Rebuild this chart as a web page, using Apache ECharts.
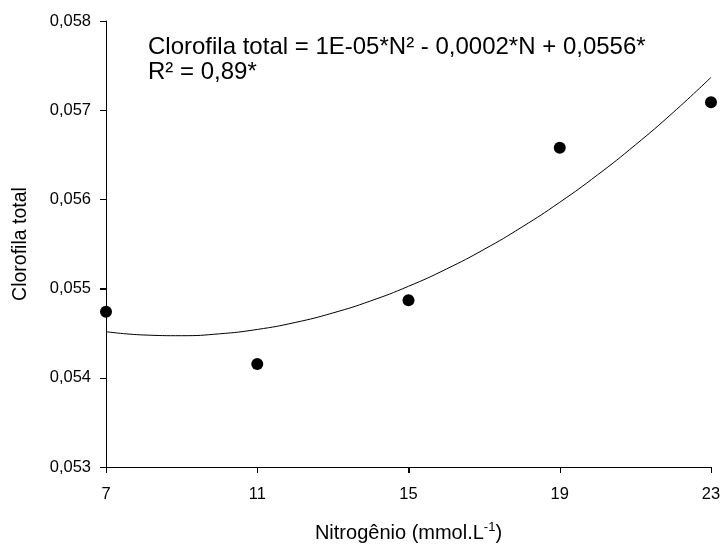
<!DOCTYPE html>
<html>
<head>
<meta charset="utf-8">
<script src="https://cdn.jsdelivr.net/npm/echarts@6/dist/echarts.min.js"></script>
<style>
  html, body { margin: 0; padding: 0; background: #fff; }
  #chart { width: 722px; height: 544px; }
</style>
</head>
<body>
<div id="chart"></div>
<script>
// dados observados
const nitrogenio = [7, 11, 15, 19, 23];
const clorofila = [0.05474, 0.054155, 0.05487, 0.05658, 0.05709];

// curva de regressao (N = 7 a 23)
const curvaN = [7, 8, 9, 10, 11, 12, 13, 14, 15, 16, 17, 18, 19, 20, 21, 22, 23];
const curvaVal = [0.054517, 0.05448, 0.054472, 0.054493, 0.054542, 0.05462, 0.054727, 0.054862,
  0.055026, 0.055219, 0.05544, 0.05569, 0.055968, 0.056275, 0.056611, 0.056975, 0.057368];

// marcas dos eixos
const xTicks = [7, 11, 15, 19, 23];
const yTicks = [0.053, 0.054, 0.055, 0.056, 0.057, 0.058];

const fonte = 'Liberation Sans, Arial, sans-serif';

const chart = echarts.init(document.getElementById('chart'));

// tracinho de eixo desenhado pela escala do grafico
const tracoX = (params, api) => {
  const p = api.coord([api.value(0), yTicks[0]]);
  const x = Math.round(p[0]) + 0.5;
  return { type: 'line', shape: { x1: x, y1: p[1], x2: x, y2: p[1] + 6 }, style: { stroke: '#000', lineWidth: 1 } };
};
const tracoY = (params, api) => {
  const p = api.coord([xTicks[0], api.value(0)]);
  const y = Math.round(p[1]) + 0.5;
  return { type: 'line', shape: { x1: p[0] - 6, y1: y, x2: p[0], y2: y }, style: { stroke: '#000', lineWidth: 1 } };
};

const option = {
  animation: false,
  backgroundColor: '#fff',
  grid: { left: 106, right: 11, top: 21, bottom: 77, outerBoundsMode: 'none' },
  xAxis: {
    type: 'value',
    min: 7,
    max: 23,
    interval: 4,
    name: 'Nitrogênio (mmol.L{sup|-1})',
    nameLocation: 'middle',
    nameGap: 54,
    nameTextStyle: {
      fontFamily: fonte, fontSize: 20, color: '#000',
      rich: { sup: { fontFamily: fonte, fontSize: 13, color: '#000', verticalAlign: 'top', padding: [0, 0, 12, 0] } }
    },
    axisLine: { show: true, lineStyle: { color: '#000', width: 1 } },
    axisTick: { show: true, length: 6, lineStyle: { color: '#000' } },
    axisLabel: { margin: 19, fontFamily: fonte, fontSize: 16.5, color: '#000' },
    splitLine: { show: false }
  },
  yAxis: {
    type: 'value',
    min: 0.053,
    max: 0.058,
    interval: 0.001,
    name: 'Clorofila total',
    nameLocation: 'middle',
    nameGap: 75,
    nameTextStyle: { fontFamily: fonte, fontSize: 19.5, color: '#000' },
    axisLine: { show: true, lineStyle: { color: '#000', width: 1 } },
    axisTick: { show: true, length: 6, lineStyle: { color: '#000' } },
    axisLabel: {
      margin: 15,
      fontFamily: fonte, fontSize: 16.5, color: '#000',
      formatter: v => v.toFixed(3).replace('.', ',')
    },
    splitLine: { show: false }
  },
  series: [
    {
      type: 'line',
      data: curvaN.map((n, i) => [n, curvaVal[i]]),
      smooth: true,
      showSymbol: false,
      lineStyle: { color: '#000', width: 1 },
      z: 2
    },
    {
      type: 'scatter',
      data: nitrogenio.map((n, i) => [n, clorofila[i]]),
      symbol: 'circle',
      symbolSize: 12,
      itemStyle: { color: '#000', opacity: 1 },
      clip: false,
      z: 3
    },
    { type: 'custom', data: xTicks.map(v => [v]), renderItem: tracoX, clip: false, silent: true, z: 4 },
    { type: 'custom', data: yTicks.map(v => [v]), renderItem: tracoY, clip: false, silent: true, z: 4 }
  ],
  graphic: [
    {
      type: 'text',
      left: 148,
      top: 35,
      style: {
        text: 'Clorofila total = 1E-05*N² - 0,0002*N + 0,0556*\nR² = 0,89*',
        fontFamily: fonte,
        fontSize: 24,
        lineHeight: 25,
        fill: '#000'
      }
    }
  ]
};

chart.setOption(option);
</script>
</body>
</html>
